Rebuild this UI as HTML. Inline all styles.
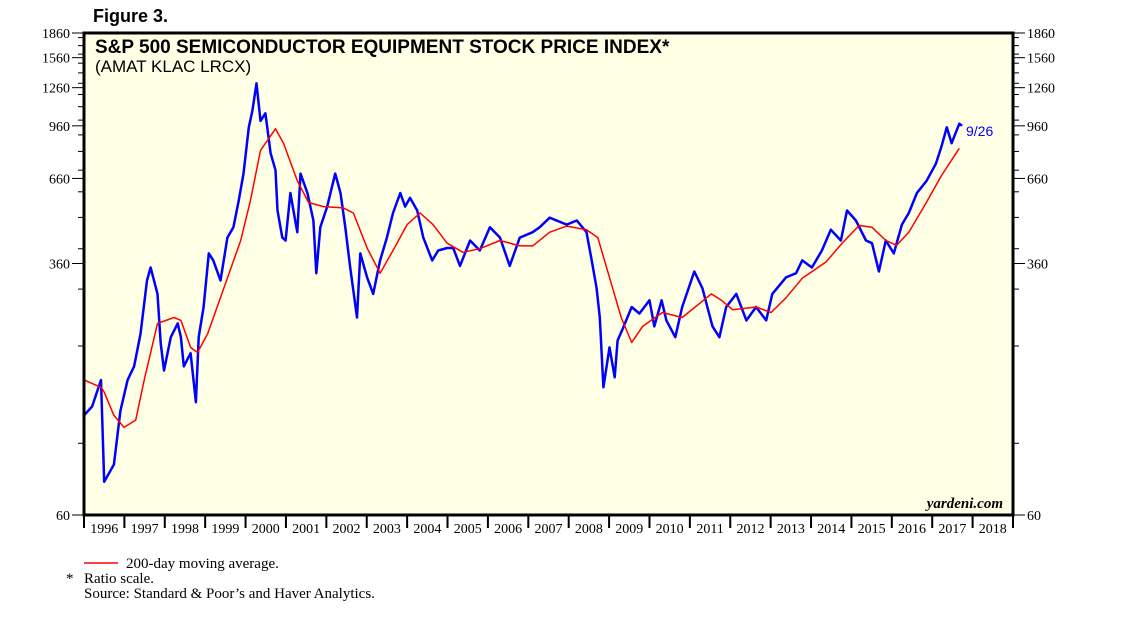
<!DOCTYPE html>
<html><head><meta charset="utf-8">
<style>
html,body{margin:0;padding:0;background:#fff;}
svg{display:block;}
.serif{font-family:"Liberation Serif",serif;}
.sans{font-family:"Liberation Sans",sans-serif;}
</style></head>
<body>
<svg id="chart" width="1138" height="621" viewBox="0 0 1138 621" xmlns="http://www.w3.org/2000/svg">
<text x="93" y="22" class="sans" font-size="18" font-weight="bold">Figure 3.</text>
<rect x="84" y="33" width="929" height="482" fill="#ffffe6"/>
<g id="series"></g>
<rect x="84" y="33" width="929" height="482" fill="none" stroke="#000" stroke-width="3"/>
<text x="95" y="53" class="sans" font-size="19" font-weight="bold">S&amp;P 500 SEMICONDUCTOR EQUIPMENT STOCK PRICE INDEX*</text>
<text x="95" y="72" class="sans" font-size="17">(AMAT KLAC LRCX)</text>
<text x="1003" y="508" class="serif" font-size="15" font-weight="bold" font-style="italic" text-anchor="end">yardeni.com</text>
<text x="966" y="136" class="sans" font-size="14" fill="#0000ff">9/26</text>
<g id="axes"></g>
<line x1="84" y1="563" x2="118" y2="563" stroke="#ff0000" stroke-width="1.5"/>
<text x="126" y="568" class="serif" font-size="15">200-day moving average.</text>
<text x="66" y="583" class="serif" font-size="15">*</text>
<text x="84" y="583" class="serif" font-size="15">Ratio scale.</text>
<text x="84" y="598" class="serif" font-size="15">Source: Standard &amp; Poor’s and Haver Analytics.</text>
</svg>
<script>
const yTicks=[60,360,660,960,1260,1560,1860];
const yearLabels=[1996,1997,1998,1999,2000,2001,2002,2003,2004,2005,2006,2007,2008,2009,2010,2011,2012,2013,2014,2015,2016,2017,2018];
const priceT=[1996.0,1996.2,1996.42,1996.5,1996.74,1996.9,1997.08,1997.24,1997.4,1997.56,1997.65,1997.82,1997.9,1997.98,1998.15,1998.32,1998.4,1998.47,1998.64,1998.77,1998.84,1998.96,1999.09,1999.2,1999.38,1999.55,1999.7,1999.83,1999.95,2000.08,2000.17,2000.27,2000.37,2000.49,2000.62,2000.74,2000.79,2000.91,2000.99,2001.11,2001.23,2001.28,2001.36,2001.53,2001.68,2001.75,2001.85,2002.02,2002.22,2002.35,2002.47,2002.59,2002.76,2002.84,2003.01,2003.16,2003.33,2003.5,2003.65,2003.83,2003.95,2004.07,2004.25,2004.4,2004.62,2004.77,2004.99,2005.14,2005.31,2005.56,2005.8,2006.05,2006.3,2006.54,2006.79,2007.11,2007.28,2007.53,2007.95,2008.2,2008.44,2008.57,2008.69,2008.77,2008.86,2009.01,2009.14,2009.21,2009.33,2009.56,2009.75,2010.0,2010.12,2010.3,2010.42,2010.64,2010.81,2011.11,2011.31,2011.56,2011.73,2011.9,2012.15,2012.4,2012.64,2012.89,2013.04,2013.38,2013.63,2013.78,2014.02,2014.27,2014.49,2014.74,2014.89,2015.11,2015.36,2015.51,2015.68,2015.85,2016.05,2016.25,2016.42,2016.62,2016.86,2017.09,2017.23,2017.36,2017.48,2017.67,2017.74];
const priceV=[122,130,157,76,86,126,157,173,218,319,350,290,204,168,213,235,213,173,190,134,213,264,387,368,319,433,466,563,683,950,1070,1300,994,1050,790,700,525,433,424,595,489,450,683,595,489,336,466,540,683,595,466,350,245,387,326,290,368,433,516,595,540,575,525,433,368,395,402,402,354,424,395,466,433,354,433,450,466,499,475,489,450,368,302,245,149,198,160,208,225,264,252,277,230,277,240,213,264,340,302,230,213,264,290,240,264,240,290,326,336,368,350,395,458,424,525,489,424,416,340,424,387,475,516,595,649,733,829,950,848,975,960];
const maT=[1996.0,1996.42,1996.5,1996.74,1996.99,1997.28,1997.49,1997.82,1998.23,1998.4,1998.64,1998.81,1999.06,1999.46,1999.88,2000.12,2000.37,2000.74,2000.94,2001.28,2001.56,2001.93,2002.42,2002.67,2003.01,2003.33,2003.65,2004.0,2004.32,2004.64,2004.99,2005.38,2005.8,2006.3,2006.79,2007.11,2007.53,2007.95,2008.44,2008.72,2009.01,2009.3,2009.56,2009.83,2010.32,2010.81,2011.53,2011.78,2012.06,2012.64,2013.01,2013.38,2013.78,2014.37,2014.77,2015.19,2015.51,2015.85,2016.12,2016.42,2016.84,2017.23,2017.67];
const maV=[157,149,144,122,112,118,157,235,245,240,198,191,218,302,424,563,806,940,848,649,556,540,535,516,402,336,395,475,516,475,416,390,400,424,408,408,450,470,458,433,326,245,205,230,254,245,290,277,259,264,254,282,324,364,416,472,466,424,410,450,552,674,818];

const NS='http://www.w3.org/2000/svg';
const X0=84,X1=1013,Y0=515,Y1=33,T0=1996,T1=2019,VMIN=60,VMAX=1860;
function xs(t){return X0+(t-T0)/(T1-T0)*(X1-X0);}
function ys(v){return Y0-Math.log(v/VMIN)/Math.log(VMAX/VMIN)*(Y0-Y1);}
function mk(tag,attrs,parent){const e=document.createElementNS(NS,tag);for(const k in attrs)e.setAttribute(k,attrs[k]);parent.appendChild(e);return e;}
const axes=document.getElementById('axes'),series=document.getElementById('series');
for(let v=100;v<1860;v+=100){
  const y=ys(v);
  for(const side of [0,1]){
    const l=mk('line',{x1:side?X1:X0-6,x2:side?X1+6:X0,y1:y,y2:y,stroke:'#000','stroke-width':1},axes);
    
    
  }
}
yTicks.forEach(v=>{
  const y=ys(v);
  const l=mk('line',{x1:X0-12,x2:X0,y1:y,y2:y,stroke:'#000','stroke-width':1},axes);
  
  
  const r=mk('line',{x1:X1,x2:X1+12,y1:y,y2:y,stroke:'#000','stroke-width':1},axes);
  
  
  const tl=mk('text',{x:X0-14,y:y+5,'text-anchor':'end','font-size':14,class:'serif'},axes);
  tl.textContent=v;
  
  
  const tr=mk('text',{x:X1+14,y:y+5,'font-size':14,class:'serif'},axes);
  tr.textContent=v;
  
  
});
yearLabels.forEach((yr,i)=>{
  const x=xs(yr);
  const t=mk('line',{x1:x,x2:x,y1:Y0,y2:Y0+13,stroke:'#000','stroke-width':2},axes);
  
  
  const lb=mk('text',{x:xs(yr+0.5),y:Y0+18,'text-anchor':'middle','font-size':14,class:'serif'},axes);
  lb.textContent=yr;
  
  
});
const te=mk('line',{x1:X1,x2:X1,y1:Y0,y2:Y0+13,stroke:'#000','stroke-width':2},axes);


function path(T,V){return T.map((t,i)=>(i?'L':'M')+xs(t).toFixed(1)+','+ys(V[i]).toFixed(1)).join('');}
const pl=mk('path',{d:path(priceT,priceV),fill:'none',stroke:'#0000ff','stroke-width':2.5,'stroke-linejoin':'round'},series);


const ml=mk('path',{d:path(maT,maV),fill:'none',stroke:'#ff0000','stroke-width':1.5,'stroke-linejoin':'round'},series);


</script>
</body></html>
